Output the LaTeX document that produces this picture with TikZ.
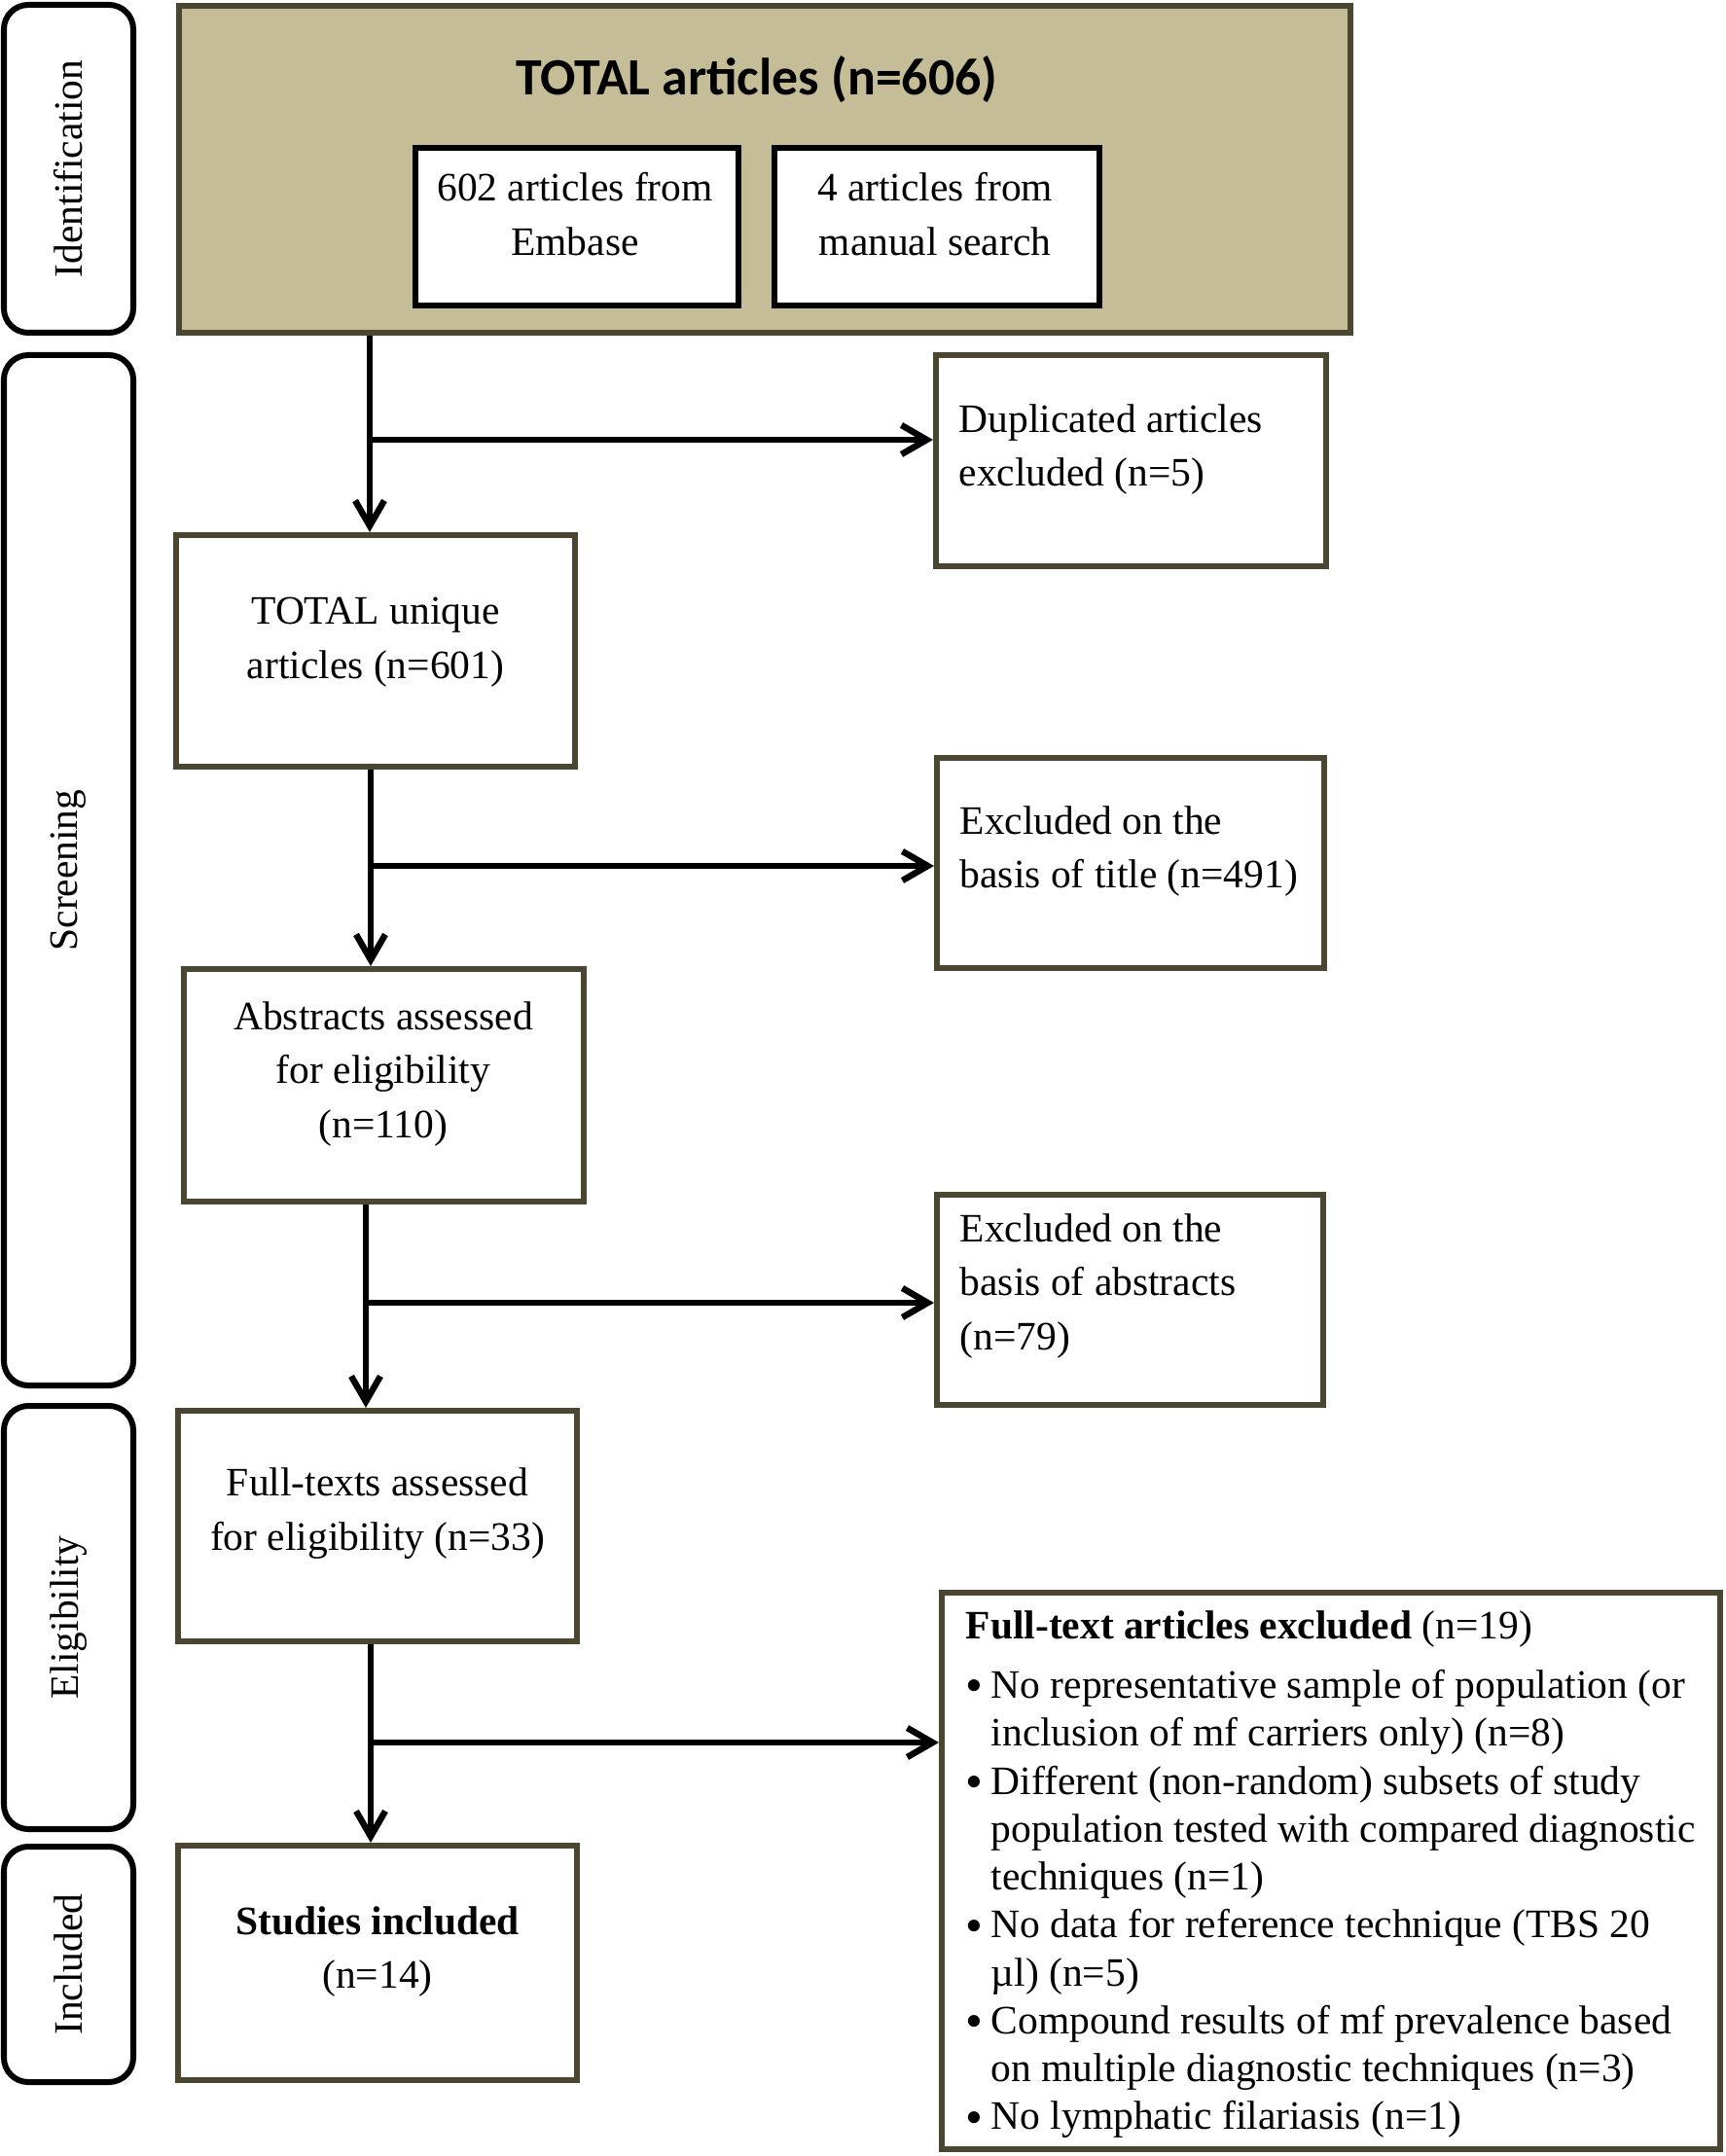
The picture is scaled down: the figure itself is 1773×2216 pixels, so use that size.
\documentclass[tikz,border=0pt]{standalone}
\usepackage{fontspec}
\setmainfont{Liberation Serif}
\newfontfamily\titlefont{Carlito}
\usetikzlibrary{positioning,fit,arrows.meta}
\definecolor{olivedark}{HTML}{4B4631}
\definecolor{tanfill}{HTML}{C4BD97}
\newcommand{\bul}{\makebox[7.4pt][l]{\raisebox{-1.2pt}{\fontsize{14.5}{14}\selectfont\textbullet}}}

\begin{document}
\begin{tikzpicture}[x=0.01cm,y=-0.01cm]
        \tikzstyle{stage}=[draw=black,line width=0.06cm,rounded corners=0.25cm,inner sep=0pt]
        \tikzstyle{box}=[draw=olivedark,line width=0.06cm,fill=white,inner sep=0pt]
        \tikzstyle{source}=[draw=black,line width=0.06cm,fill=white,inner sep=0pt]
        \tikzstyle{txt}=[inner sep=0pt,align=center,font=\fontsize{11.8}{15.9}\selectfont]
        \tikzstyle{ltxt}=[txt,align=left,anchor=west]
        \tikzstyle{edge}=[draw,line width=0.065cm,-{Straight Barb[length=0.26cm,width=0.3cm]}]
        \useasboundingbox (0,0) rectangle (1773,2216);
        % stages on the left
        \node [stage,fit={(4,5) (137,342)}] (idn) {};
        \node [stage,fit={(4,365) (137,1424)}] (scr) {};
        \node [stage,fit={(4,1445) (137,1880)}] (eli) {};
        \node [stage,fit={(4,1898) (137,2140)}] (inc) {};
        \node [txt,rotate=90] (idnT) at (idn.center) {Identification};
        \node [txt,rotate=90] (scrT) at (scr.center) {Screening};
        \node [txt,rotate=90] (eliT) at (eli.center) {Eligibility};
        \node [txt,rotate=90] (incT) at (inc.center) {Included};
        % identification
        \node [box,fill=tanfill,fit={(184,6) (1388,342)}] (total) {};
        \node [inner sep=0pt,font=\titlefont\bfseries\fontsize{15.3}{18}\selectfont] (totalT) at (778,82) {TOTAL articles (n=606)};
        \node [source,fit={(427,152) (759,314)}] (emb) {};
        \node [source,fit={(796,152) (1130,314)}] (man) {};
        \node [txt] (embT) at (591,220) {602 articles from\\Embase};
        \node [txt] (manT) at (961,220) {4 articles from\\manual search};
        % screening
        \node [box,fit={(962,365) (1363,582)}] (dup) {};
        \node [ltxt] (dupT) at (985,462) {Duplicated articles\\excluded (n=5)};
        \node [box,fit={(181,550) (591,788)}] (uniq) {};
        \node [txt] (uniqT) at (386,660) {TOTAL unique\\articles (n=601)};
        \node [box,fit={(963,779) (1361,995)}] (extit) {};
        \node [ltxt] (extitT) at (986,875) {Excluded on the\\basis of title (n=491)};
        \node [box,fit={(189,996) (600,1235)}] (abs) {};
        \node [txt] (absT) at (394,1104) {Abstracts assessed\\for eligibility\\(n=110)};
        \node [box,fit={(963,1228) (1360,1444)}] (exabs) {};
        \node [ltxt] (exabsT) at (986,1322) {Excluded on the\\basis of abstracts\\(n=79)};
        % eligibility and included
        \node [box,fit={(183,1450) (593,1687)}] (full) {};
        \node [txt] (fullT) at (388,1556) {Full-texts assessed\\for eligibility (n=33)};
        \node [box,fit={(968,1637) (1768,2209)}] (exfull) {};
        \node [ltxt,font=\fontsize{11.8}{14}\selectfont] (exfullT) at (992,1927) {%
            \begin{tabular}{@{}l@{}l@{}}
            \multicolumn{2}{@{}l@{}}{\textbf{Full-text articles excluded} (n=19)}\\[3.3pt]
            \bul & No representative sample of population (or\\
             & inclusion of mf carriers only) (n=8)\\
            \bul & Different (non-random) subsets of study\\
             & population tested with compared diagnostic\\
             & techniques (n=1)\\
            \bul & No data for reference technique (TBS 20\\
             & µl) (n=5)\\
            \bul & Compound results of mf prevalence based\\
             & on multiple diagnostic techniques (n=3)\\
            \bul & No lymphatic filariasis (n=1)
            \end{tabular}};
        \node [box,fit={(183,1897) (593,2138)}] (stud) {};
        \node [txt] (studT) at (388,2006) {\textbf{Studies included}\\(n=14)};
        % arrows
        \coordinate (j1) at (380,452);
        \coordinate (j2) at (381,890);
        \coordinate (j3) at (376,1339);
        \coordinate (j4) at (381,1791);
        \path[edge] (j1 |- total.south) -- (j1 |- uniq.north);
        \path[edge] (j1) -- (j1 -| dup.west);
        \path[edge] (j2 |- uniq.south) -- (j2 |- abs.north);
        \path[edge] (j2) -- (j2 -| extit.west);
        \path[edge] (j3 |- abs.south) -- (j3 |- full.north);
        \path[edge] (j3) -- (j3 -| exabs.west);
        \path[edge] (j4 |- full.south) -- (j4 |- stud.north);
        \path[edge] (j4) -- (j4 -| exfull.west);
\end{tikzpicture}
\end{document}
